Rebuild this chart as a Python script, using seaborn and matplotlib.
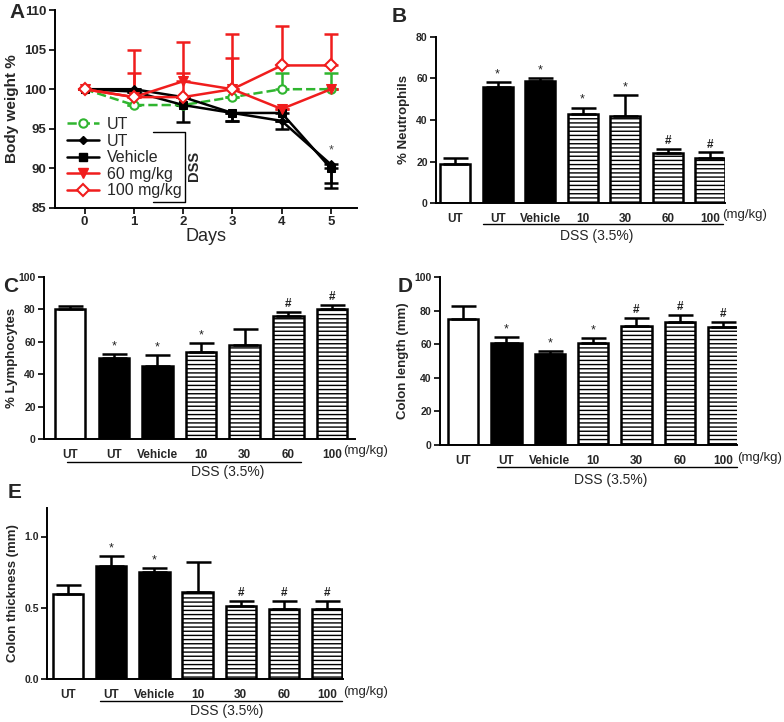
import matplotlib
matplotlib.use("Agg")
import matplotlib.pyplot as plt
import seaborn as sns
import numpy as np
import pandas as pd

sns.set_style("ticks")
plt.rcParams['font.family'] = ['Liberation Sans', 'DejaVu Sans']
plt.rcParams['hatch.linewidth'] = 1.0
plt.rcParams['hatch.color'] = 'black'

# ---------------- Data ----------------
days = [0, 1, 2, 3, 4, 5]
bw_labels = ["UT", "UT", "Vehicle", "60 mg/kg", "100 mg/kg"]
bw_ut = [100, 98, 98, 99, 100, 100]
bw_ut_err = [0, 0, 0, 0, 2, 2]
bw_dss_ut = [100, 100, 99, 97, 96, 90.5]
bw_dss_ut_err = [0, 0, 0, 1, 1, 2.3]
bw_vehicle = [100, 99.7, 98, 97, 97, 90]
bw_vehicle_err = [0, 0, 2.1, 1, 1, 2.5]
bw_60 = [100, 99, 101, 100, 97.5, 100]
bw_60_err = [0, 3, 1, 4, 0, 0]
bw_100 = [100, 99, 99, 100, 103, 103]
bw_100_err = [0, 6, 7, 7, 5, 4]

groups = ["UT", "UT", "Vehicle", "10", "30", "60", "100"]
neut = [19, 56, 59, 43, 42, 24, 21.5]
neut_err = [2.5, 2.5, 1, 3, 10, 2, 3]
neut_sig = ["", "*", "*", "*", "*", "#", "#"]
lymph = [80, 50, 45, 54, 58, 76, 80]
lymph_err = [2, 2.5, 7, 5, 10, 2.5, 3]
lymph_sig = ["", "*", "*", "*", "", "#", "#"]
length = [75, 60.5, 54, 60.5, 71, 73.5, 70.5]
length_err = [7.5, 3.5, 2, 3, 4.5, 4, 3]
length_sig = ["", "*", "*", "*", "#", "#", "#"]
thick = [0.60, 0.79, 0.75, 0.61, 0.51, 0.49, 0.49]
thick_err = [0.06, 0.07, 0.03, 0.21, 0.04, 0.06, 0.06]
thick_sig = ["", "*", "*", "", "#", "#", "#"]
fill_kind = ["open", "solid", "solid", "hatch", "hatch", "hatch", "hatch"]

W, H = 784, 722
fig = plt.figure(figsize=(W / 100, H / 100), dpi=100)

def ax_px(left, top, right, bottom):
    return fig.add_axes([left / W, 1 - bottom / H, (right - left) / W, (bottom - top) / H])

def style_axes(ax, lw=1.4):
    for s in ['top', 'right']:
        ax.spines[s].set_visible(False)
    for s in ['left', 'bottom']:
        ax.spines[s].set_linewidth(lw)
        ax.spines[s].set_color('black')

# ---------------- Panel A ----------------
axA = ax_px(55, 10, 357, 208)
red = '#f01d1d'
green = '#2fb52f'
series = [
    (bw_ut, bw_ut_err, 'up', dict(color=green, linestyle='--', marker='o', markersize=6,
                                 markerfacecolor='white', markeredgecolor=green, markeredgewidth=1.5)),
    (bw_dss_ut, bw_dss_ut_err, 'down', dict(color='black', linestyle='-', marker='D', markersize=4,
                                          markerfacecolor='black', markeredgecolor='black')),
    (bw_vehicle, bw_vehicle_err, 'down', dict(color='black', linestyle='-', marker='s', markersize=6,
                                            markerfacecolor='black', markeredgecolor='black')),
    (bw_60, bw_60_err, 'up', dict(color=red, linestyle='-', marker='v', markersize=7,
                                 markerfacecolor=red, markeredgecolor=red)),
    (bw_100, bw_100_err, 'up', dict(color=red, linestyle='-', marker='D', markersize=6,
                                   markerfacecolor='white', markeredgecolor=red, markeredgewidth=1.5)),
]
handles = []
for (vals, errs, direction, kw), lab in zip(series, bw_labels):
    col = kw['color']
    zeros = [0] * len(errs)
    yerr = [zeros, errs] if direction == 'up' else [errs, zeros]
    axA.errorbar(days, vals, yerr=yerr, fmt='none', ecolor=col, elinewidth=1.8,
                 capsize=5, capthick=1.8, zorder=2)
    sns.lineplot(x=days, y=vals, ax=axA, linewidth=1.8, zorder=3, **kw)
    h, = axA.plot([], [], linewidth=1.8, **kw)
    handles.append(h)

axA.set_xlim(-0.6, 5.53)
axA.set_ylim(85, 110)
axA.set_xticks(days)
axA.set_yticks([85, 90, 95, 100, 105, 110])
axA.tick_params(axis='both', direction='out', length=4, width=1.4, labelsize=9.5, pad=2)
for t in axA.get_xticklabels() + axA.get_yticklabels():
    t.set_fontweight('bold')
axA.set_xlabel("Days", fontsize=13, labelpad=0)
axA.set_ylabel("Body weight %", fontsize=11, fontweight='bold', labelpad=4)
style_axes(axA)
axA.text(5, 91.5, "*", ha='center', va='bottom', fontsize=9, color='#444444')
leg = axA.legend(handles, bw_labels, loc='upper left', bbox_to_anchor=(0.04, 0.46),
                 frameon=False, fontsize=11.5, handlelength=2.0, handletextpad=0.5,
                 labelspacing=0.1, borderaxespad=0, borderpad=0)
# DSS bracket
axA.plot([1.38, 2.03, 2.03, 1.38], [94.6, 94.6, 85.7, 85.7], color='black', lw=1.0,
         clip_on=False, zorder=1)
axA.text(2.22, 90.3, "DSS", rotation=90, ha='center', va='center', fontsize=10.5, fontweight='bold')
fig.text(9 / W, 1 - 12 / H, "A", fontsize=15, fontweight='bold', ha='left', va='center')

# ---------------- Bar panels ----------------
def bar_panel(ax, vals, errs, sigs, ylim, yticks, ylabel, xlim, fmt, line_x, line_y, dss_x, dss_y, mg_x, sig_off):
    df = pd.DataFrame({"pos": [f"g{i}" for i in range(len(vals))], "val": vals})
    facecols = {f"g{i}": ('black' if k == 'solid' else 'white') for i, k in enumerate(fill_kind)}
    sns.barplot(data=df, x="pos", y="val", hue="pos", palette=facecols, legend=False,
                errorbar=None, width=0.7, edgecolor='black', linewidth=1.8, saturation=1, ax=ax)
    for p, k in zip(ax.patches, fill_kind):
        if k == 'hatch':
            p.set_hatch('----')
        p.set_zorder(2)
    xs = np.arange(len(vals))
    ax.errorbar(xs, vals, yerr=[[0] * len(errs), errs], fmt='none', ecolor='black',
                elinewidth=1.8, capsize=9, capthick=1.8, zorder=3)
    for x, v, e, s in zip(xs, vals, errs, sigs):
        if s:
            ax.text(x, v + e + sig_off, s, ha='center', va='bottom', fontsize=8.5 if s == '#' else 9,
                    fontweight='bold' if s == '#' else 'normal', color='#222222')
    ax.set_ylim(*ylim)
    ax.set_yticks(yticks)
    ax.yaxis.set_major_formatter(plt.FormatStrFormatter(fmt))
    ax.set_xlim(*xlim)
    ax.set_xticks(xs)
    ax.set_xticklabels(groups)
    ax.tick_params(axis='x', length=0, pad=7, labelsize=8.5)
    ax.tick_params(axis='y', direction='out', length=4, width=1.4, labelsize=7.5, pad=2)
    for t in ax.get_xticklabels() + ax.get_yticklabels():
        t.set_fontweight('bold')
    ax.set_xlabel("")
    ax.set_ylabel(ylabel, fontsize=9.5, fontweight='bold', labelpad=4)
    style_axes(ax)
    tr = ax.get_xaxis_transform()
    ax.plot(line_x, [line_y, line_y], color='black', lw=1.0, transform=tr, clip_on=False)
    ax.text(dss_x, dss_y, "DSS (3.5%)", ha='center', va='center', fontsize=10, transform=tr)
    ax.text(mg_x, -0.075, "(mg/kg)", ha='left', va='center', fontsize=9.5, transform=tr)

axB = ax_px(436, 37, 725, 203)
bar_panel(axB, neut, neut_err, neut_sig, (0, 80), [0, 20, 40, 60, 80], "% Neutrophils",
          (-0.45, 6.35), '%d', [0.66, 6.3], -0.127, 3.34, -0.2, 6.28, 0.8)
fig.text(392 / W, 1 - 16 / H, "B", fontsize=15, fontweight='bold', ha='left', va='center')

axC = ax_px(44, 277, 355, 439)
bar_panel(axC, lymph, lymph_err, lymph_sig, (0, 100), [0, 20, 40, 60, 80, 100], "% Lymphocytes",
          (-0.6, 6.53), '%d', [-0.07, 5.3], -0.142, 3.6, -0.205, 6.26, 1.0)
axC.yaxis.set_label_coords(-0.085, 0.5)
fig.text(3 / W, 1 - 286 / H, "C", fontsize=15, fontweight='bold', ha='left', va='center')

axD = ax_px(440, 277, 737, 445)
bar_panel(axD, length, length_err, length_sig, (0, 100), [0, 20, 40, 60, 80, 100], "Colon length (mm)",
          (-0.53, 6.32), '%d', [0.79, 6.33], -0.131, 3.4, -0.208, 6.33, 1.0)
fig.text(398 / W, 1 - 287 / H, "D", fontsize=15, fontweight='bold', ha='left', va='center')

axE = ax_px(47, 508, 343, 679)
bar_panel(axE, thick, thick_err, thick_sig, (0, 1.2), [0.0, 0.5, 1.0], "Colon thickness (mm)",
          (-0.49, 6.37), '%.1f', [0.74, 6.34], -0.129, 3.68, -0.19, 6.37, 0.012)
fig.text(8 / W, 1 - 493 / H, "E", fontsize=15, fontweight='bold', ha='left', va='center')

fig.savefig("out.png", dpi=100, facecolor='white')
